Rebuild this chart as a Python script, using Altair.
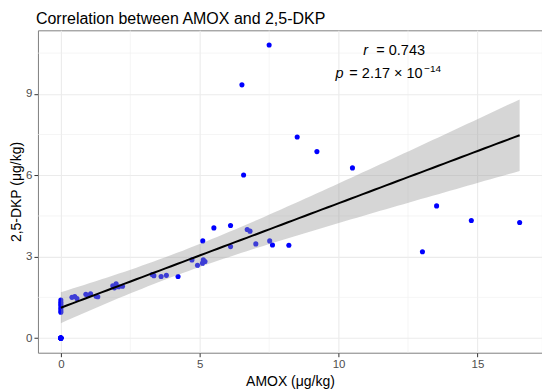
import altair as alt
import pandas as pd
import numpy as np

# ---- data (several samples overlap exactly at the origin) ----
amox = [0, 0, 0, 0, 0, 0, 0, 0, 0,
        0, 0, 0, 0, 0, 0, 0,
        0.4, 0.5, 0.58,
        0.9, 0.98, 1.07, 1.27, 1.33,
        1.87, 1.93, 1.99, 2.08, 2.22,
        3.29, 3.35, 3.61, 3.8, 4.22,
        4.72, 4.92, 5.1, 5.13, 5.19, 5.11,
        5.51, 6.11, 6.11, 6.71, 6.81, 7.02, 7.52, 7.62, 8.21,
        6.52, 7.5, 8.51, 9.22, 6.58, 10.5, 13.53, 14.78, 13.02, 16.52]
dkp = [0, 0, 0, 0, 0, 0, 0, 0, 0,
       0.95, 1.02, 1.1, 1.18, 1.25, 1.32, 1.4,
       1.5, 1.53, 1.46,
       1.61, 1.57, 1.63, 1.54, 1.52,
       1.93, 1.85, 2.0, 1.89, 1.91,
       2.34, 2.3, 2.27, 2.31, 2.27,
       2.88, 2.68, 2.76, 2.88, 2.82, 3.58,
       4.06, 4.15, 3.37, 4.0, 3.94, 3.47, 3.58, 3.43, 3.42,
       9.33, 10.8, 7.41, 6.87, 6.01, 6.27, 4.87, 4.33, 3.18, 4.26]

x_ticks = [0, 5, 10, 15]
y_ticks = [0, 3, 6, 9]
x_minor = [2.5, 7.5, 12.5]
y_minor = [1.5, 4.5, 7.5, 10.5]

title_text = "Correlation between AMOX and 2,5-DKP"
x_title = "AMOX (μg/kg)"
y_title = "2,5-DKP (μg/kg)"
r_text = "= 0.743"
p_text = "= 2.17 × 10"
p_exp = "−14"

# ---- linear fit with 95% confidence band (computed from the data) ----
xa = np.array(amox, dtype=float)
ya = np.array(dkp, dtype=float)
n = len(xa)
slope, intercept = np.polyfit(xa, ya, 1)
resid = ya - (slope * xa + intercept)
s = np.sqrt(np.sum(resid ** 2) / (n - 2))
xm = xa.mean()
sxx = np.sum((xa - xm) ** 2)
t_crit = 2.0
xs = np.linspace(xa.min(), xa.max(), 80)
fit = slope * xs + intercept
se = s * np.sqrt(1.0 / n + (xs - xm) ** 2 / sxx)
fit_df = pd.DataFrame({"x": xs, "y": fit, "lo": fit - t_crit * se, "hi": fit + t_crit * se})

pts = pd.DataFrame({"x": amox, "y": dkp})

FONT = "Liberation Sans, Arial, Helvetica, sans-serif"

xscale = alt.Scale(domain=[-0.825, 17.325], nice=False, zero=False)
yscale = alt.Scale(domain=[-0.54, 11.34], nice=False, zero=False)
xaxis = alt.Axis(values=x_ticks, title=x_title, format="d")
yaxis = alt.Axis(values=y_ticks, title=y_title, format="d")


def X(field="x"):
    return alt.X(f"{field}:Q", scale=xscale, axis=xaxis)


def Y(field="y"):
    return alt.Y(f"{field}:Q", scale=yscale, axis=yaxis)


minor_x = alt.Chart(pd.DataFrame({"x": x_minor})).mark_rule(
    color="#EEEEEE", strokeWidth=0.6).encode(x=X())
minor_y = alt.Chart(pd.DataFrame({"y": y_minor})).mark_rule(
    color="#EEEEEE", strokeWidth=0.6).encode(y=Y())

points = alt.Chart(pts).mark_circle(color="#0000FF", opacity=1, size=26).encode(
    x=X(), y=Y())
band = alt.Chart(fit_df).mark_area(color="#999999", opacity=0.4).encode(
    x=X(), y=Y("lo"), y2="hi")
line = alt.Chart(fit_df).mark_line(color="black", strokeWidth=2).encode(
    x=X(), y=Y())

txt_style = dict(font=FONT, fontSize=14.5, color="black", align="left", baseline="alphabetic")
# annotation positions in pixels of the plot area
r_i = alt.Chart(pd.DataFrame({"t": ["r"]})).mark_text(fontStyle="italic", **txt_style).encode(
    x=alt.value(326), y=alt.value(25), text="t:N")
r_v = alt.Chart(pd.DataFrame({"t": [r_text]})).mark_text(**txt_style).encode(
    x=alt.value(339), y=alt.value(25), text="t:N")
p_i = alt.Chart(pd.DataFrame({"t": ["p"]})).mark_text(fontStyle="italic", **txt_style).encode(
    x=alt.value(298), y=alt.value(48), text="t:N")
p_v = alt.Chart(pd.DataFrame({"t": [p_text]})).mark_text(**txt_style).encode(
    x=alt.value(312), y=alt.value(48), text="t:N")
p_e = alt.Chart(pd.DataFrame({"t": [p_exp]})).mark_text(
    font=FONT, fontSize=10, color="black", align="left", baseline="alphabetic").encode(
    x=alt.value(387), y=alt.value(42), text="t:N")

chart = alt.layer(minor_x, minor_y, points, band, line, r_i, r_v, p_i, p_v, p_e).properties(
    width=505, height=323,
    padding={"left": 30, "top": 22, "right": 0, "bottom": 38},
    autosize=alt.AutoSizeParams(type="none"),
    title=alt.TitleParams(title_text, anchor="start", frame="group", fontSize=16,
                          font=FONT, fontWeight="normal", color="black", offset=3, dx=-2),
    background="white",
).configure_view(
    stroke="#7F7F7F", strokeWidth=1
).configure_axis(
    grid=True, gridColor="#EBEBEB", gridWidth=1.1,
    domain=False,
    ticks=True, tickColor="#333333", tickSize=4, tickWidth=1,
    labelFont=FONT, labelFontSize=11.5, labelColor="#4D4D4D", labelPadding=2,
    titleFont=FONT, titleFontSize=14, titleFontWeight="normal", titleColor="black",
)
chart = chart.configure_axisX(titlePadding=4).configure_axisY(titlePadding=2)

chart.save("out.html", embed_options={"renderer": "svg", "actions": False})
